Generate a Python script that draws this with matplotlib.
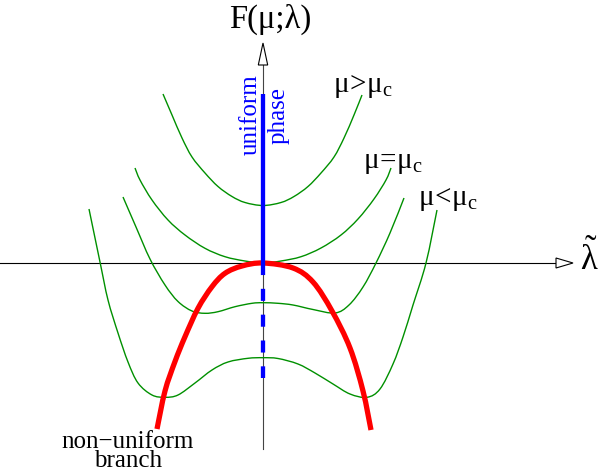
import matplotlib
matplotlib.use("Agg")
import matplotlib.pyplot as plt
from matplotlib.patches import Polygon, PathPatch
from matplotlib.path import Path

plt.rcParams['font.family'] = ['Liberation Serif', 'DejaVu Serif']
plt.rcParams['mathtext.fontset'] = 'custom'
plt.rcParams['mathtext.rm'] = 'Liberation Serif'
plt.rcParams['mathtext.it'] = 'Liberation Serif'
plt.rcParams['mathtext.bf'] = 'Liberation Serif:bold'

# free energy curves F(mu; lambda) (lambda, F)
above_x = [-100, -91, -81, -71, -58, -45, -31, -18, 0, 18, 31, 45, 58, 71, 81, 91, 99]
above_F = [169, 148, 125, 106, 90, 76.5, 66.5, 60.5, 57.5, 60.5, 66.5, 76.5, 90, 106, 125, 148, 168]

crit_x = [-128, -123, -111, -95, -78, -58, -38, -18, 0, 18, 38, 58, 78, 95, 111, 123, 128]
crit_F = [95, 83, 63, 43, 28, 14.7, 6.3, 2, 0, 2, 6.3, 15, 28, 44, 64, 83, 95]

below1_x = [-140, -127, -113, -98, -85, -71, -58, -45, -28, -11, 0, 15, 30, 50, 72, 86, 100, 113, 127, 141]
below1_F = [66, 36, 4, -22, -38.5, -48, -50.3, -48.7, -43.7, -40.3, -39.7, -40.3, -42, -46.5, -50, -42, -24, 0, 30, 65]

below2_x = [-174, -163, -155, -145, -135, -125, -111, -98, -85, -68, -51, -35, -15, 0,
            15, 35, 52, 70, 87, 104, 117, 130, 140, 150, 163, 174]
below2_F = [54, 1, -37, -70, -99, -120, -132, -134.3, -132, -120, -107, -99, -95.3, -94.7,
            -95.5, -101, -110, -121, -131, -134.3, -126, -101, -74, -42, 0, 53]

branch_x = [-106, -98, -88, -78, -65, -51, -38, -21, 0, 30, 50, 69, 87, 100, 108]
branch_F = [-166, -128, -98.5, -73.7, -45.3, -23.7, -10.3, -3, 0, -5, -19, -48, -85, -128, -167]

uniform_F = [0, 169]
unstable_F = [0, -115]

green = '#009000'


def smooth_path(xs, ys):
    # cubic Bezier segments through the read points (Catmull-Rom tangents)
    pts = list(zip(xs, ys))
    n = len(pts)
    verts = [pts[0]]
    codes = [Path.MOVETO]
    for i in range(n - 1):
        p0 = pts[max(i - 1, 0)]
        p1 = pts[i]
        p2 = pts[i + 1]
        p3 = pts[min(i + 2, n - 1)]
        c1 = (p1[0] + (p2[0] - p0[0]) / 6, p1[1] + (p2[1] - p0[1]) / 6)
        c2 = (p2[0] - (p3[0] - p1[0]) / 6, p2[1] - (p3[1] - p1[1]) / 6)
        verts += [c1, c2, p2]
        codes += [Path.CURVE4] * 3
    return Path(verts, codes)


fig = plt.figure(figsize=(5.99, 4.71), dpi=100)
ax = fig.add_axes([0, 0, 1, 1])
ax.set_xlim(-263, 336)
ax.set_ylim(-208, 263)
ax.axis('off')

# axes with open arrow heads
ax.plot([-263, 293], [0, 0], color='black', lw=0.8, zorder=1)
ax.add_patch(Polygon([[293, -5], [310, 0], [293, 5]], closed=True,
                     facecolor='white', edgecolor='black', lw=0.8, zorder=3))
ax.plot([0, 0], [-186, 198], color='#444444', lw=0.8, zorder=1)
ax.add_patch(Polygon([[-4.7, 198], [0, 220], [4.7, 198]], closed=True,
                     facecolor='white', edgecolor='black', lw=0.8, zorder=3))

for xs, fs in [(above_x, above_F), (crit_x, crit_F), (below1_x, below1_F), (below2_x, below2_F)]:
    ax.add_patch(PathPatch(smooth_path(xs, fs), facecolor='none', edgecolor=green, lw=1.0, zorder=2))

ax.add_patch(PathPatch(smooth_path(branch_x, branch_F), facecolor='none', edgecolor='red',
                       lw=3.8, zorder=4, capstyle='butt'))
ax.plot([0, 0], uniform_F, color='blue', lw=3.1, zorder=5, solid_capstyle='butt')
ax.plot([0, 0], unstable_F, color='blue', lw=3.1, zorder=5, dashes=(2.8, 3.2))

ax.text(7, 235, r'F(μ;λ)', fontsize=23.5, ha='center', va='baseline')
ax.text(317, 4, r'$\tilde{\lambda}$', fontsize=25, ha='left', va='center')
ax.text(70, 171, r'$\mu\!>\!\mu_c$', fontsize=21, ha='left', va='baseline')
ax.text(100, 95, r'$\mu\!=\!\mu_c$', fontsize=21, ha='left', va='baseline')
ax.text(155, 58, r'$\mu\!<\!\mu_c$', fontsize=21, ha='left', va='baseline')
ax.text(-12.5, 148, 'uniform', color='blue', fontsize=18, rotation=90, ha='center', va='center')
ax.text(16, 148, 'phase', color='blue', fontsize=18, rotation=90, ha='center', va='center')
ax.text(-135, -204, 'non\u2212uniform\nbranch', fontsize=18, ha='center', va='baseline',
        linespacing=0.8, multialignment='center')

fig.savefig('out.png', dpi=100)
